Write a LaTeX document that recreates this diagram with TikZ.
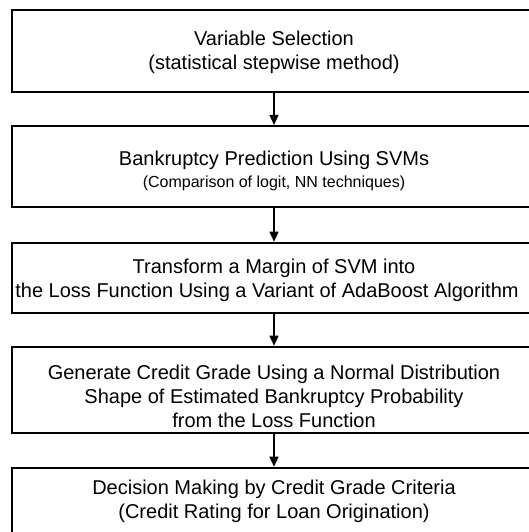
\documentclass[tikz,border=0pt]{standalone}
\usepackage{fontspec}
\setmainfont{Liberation Sans}
\usetikzlibrary{arrows.meta,positioning}

\tikzset{
  stagebox/.style={draw=black,line width=2pt,rectangle,inner sep=0pt,
    minimum width=524pt},
  stagetext/.style={inner sep=0pt,align=center,
    font=\fontsize{20}{24}\selectfont},
  flowarrow/.style={draw=black,line width=1.5pt,
    -{Triangle[width=9pt,length=10pt]}},
}

\begin{document}
\begin{tikzpicture}[x=1pt,y=-1pt]
  \clip (0,0) rectangle (529,532);
  \fill[white] (0,0) rectangle (529,532);

  % stages of the rating procedure
  \node[stagebox,minimum height=82pt] (select) at (274,51) {};
  \node[stagebox,minimum height=81.5pt] (predict) at (274,166.7) {};
  \node[stagebox,minimum height=70pt] (margin) at (274,277.7) {};
  \node[stagebox,minimum height=86pt] (grade) at (274,389.7) {};
  \node[stagebox,minimum height=72pt] (decide) at (274,503.7) {};

  % texts, set a little off the box centres
  \node[stagetext] (selecttext) at ([yshift=-1.5pt]select.center)
    {Variable Selection\\(statistical stepwise method)};
  \node[stagetext] (predicttext) at ([yshift=-4.5pt]predict.center)
    {Bankruptcy Prediction Using SVMs\\[-2pt]
     {\fontsize{16}{19}\selectfont (Comparison of logit, NN techniques)}};
  \node[stagetext] (margintext) at ([yshift=-2.5pt]margin.center)
    {Transform a Margin of SVM into\\
     \hspace*{-14pt}the Loss Function Using a Variant of AdaBoost Algorithm};
  \node[stagetext] (gradetext) at ([yshift=-7pt]grade.center)
    {Generate Credit Grade Using a Normal Distribution\\
     Shape of Estimated Bankruptcy Probability\\
     from the Loss Function};
  \node[stagetext] (decidetext) at ([yshift=2.5pt]decide.center)
    {Decision Making by Credit Grade Criteria\\
     (Credit Rating for Loan Origination)};

  \draw[flowarrow] (select) -- (predict);
  \draw[flowarrow] (predict) -- (margin);
  \draw[flowarrow] (margin) -- (grade);
  \draw[flowarrow] (grade) -- (decide);
\end{tikzpicture}
\end{document}
